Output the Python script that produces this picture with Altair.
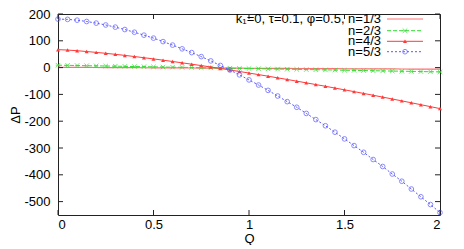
import altair as alt
import pandas as pd

Q = [0.0, 0.05, 0.1, 0.15, 0.2, 0.25, 0.3, 0.35, 0.4, 0.45,
     0.5, 0.55, 0.6, 0.65, 0.7, 0.75, 0.8, 0.85, 0.9, 0.95,
     1.0, 1.05, 1.1, 1.15, 1.2, 1.25, 1.3, 1.35, 1.4, 1.45,
     1.5, 1.55, 1.6, 1.65, 1.7, 1.75, 1.8, 1.85, 1.9, 1.95, 2.0]

n13 = [1.0, 0.8, 0.65, 0.5, 0.3, 0.1, -0.05, -0.2, -0.4, -0.6,
       -0.75, -0.9, -1.1, -1.3, -1.45, -1.6, -1.8, -2.0, -2.15, -2.3,
       -2.5, -2.7, -2.85, -3.0, -3.2, -3.4, -3.55, -3.7, -3.9, -4.1,
       -4.25, -4.4, -4.6, -4.8, -4.95, -5.1, -5.3, -5.5, -5.65, -5.8, -6.0]

n23 = [9.0, 8.4, 7.8, 7.1, 6.5, 5.9, 5.3, 4.6, 4.0, 3.4,
       2.8, 2.1, 1.5, 0.9, 0.3, -0.4, -1.0, -1.6, -2.3, -2.9,
       -3.5, -4.1, -4.8, -5.4, -6.0, -6.6, -7.3, -7.9, -8.5, -9.1,
       -9.8, -10.4, -11.0, -11.6, -12.3, -12.9, -13.5, -14.1, -14.8, -15.4, -16.0]

n43 = [67.0, 65.4, 63.0, 60.0, 56.8, 53.3, 49.5, 45.5, 41.3, 36.9,
       32.4, 27.7, 22.8, 17.8, 12.7, 7.5, 2.2, -3.3, -8.9, -14.5,
       -20.3, -26.2, -32.1, -38.2, -44.3, -50.6, -56.9, -63.3, -69.7, -76.3,
       -82.9, -89.6, -96.4, -103.2, -110.1, -117.1, -124.2, -131.3, -138.4, -145.7, -153.0]

n53 = [181, 180, 177, 172, 166, 159, 151, 142, 132, 121,
       110, 97, 84, 70, 56, 41, 25, 8, -9, -27,
       -46, -65, -85, -106, -127, -148, -171, -194, -217, -241,
       -266, -291, -316, -343, -369, -397, -424, -453, -482, -511, -541]

legend_labels = ["k\u2081=0, \u03c4=0.1, \u03c6=0.5, n=1/3", "n=2/3", "n=4/3", "n=5/3"]
x_ticks = [0, 0.5, 1, 1.5, 2]
y_ticks = [-500, -400, -300, -200, -100, 0, 100, 200]

W, H = 382, 201
FONT = "Liberation Sans"
FS = 13

RED_LIGHT = "#ff7070"
RED = "#ff3a3a"
GREEN = "#33dd33"
BLUE = "#5a5aff"
STAR = "M-1,-1L1,1M-1,1L1,-1M-1,0L1,0"

xs = alt.Scale(domain=[0, 2], nice=False)
ys = alt.Scale(domain=[-550, 200], nice=False)

XAX = alt.Axis(values=x_ticks, labelExpr="'' + datum.value", tickSize=0,
               labelPadding=3, titlePadding=1, domain=False, grid=False,
               labelOverlap=False, ticks=False)
YAX = alt.Axis(values=y_ticks, labelExpr="'' + datum.value", tickSize=0,
               labelPadding=8, titlePadding=1, domain=False, grid=False,
               labelOverlap=False, ticks=False)

def df_of(vals):
    return pd.DataFrame({"Q": Q, "P": vals})

X = alt.X("Q:Q", scale=xs, title="Q", axis=XAX)
Y = alt.Y("P:Q", scale=ys, title="\u0394P", axis=YAX)

l13 = alt.Chart(df_of(n13)).mark_line(color=RED_LIGHT, strokeWidth=1.2).encode(x=X, y=Y)
l23 = alt.Chart(df_of(n23)).mark_line(color=GREEN, strokeWidth=1, strokeDash=[4, 2]).encode(x=X, y=Y)
p23 = alt.Chart(df_of(n23)).mark_point(shape=STAR, color=GREEN, size=20, strokeWidth=1, filled=False).encode(x=X, y=Y)
l43 = alt.Chart(df_of(n43)).mark_line(color=RED, strokeWidth=1).encode(x=X, y=Y)
p43 = alt.Chart(df_of(n43)).mark_point(shape="triangle-up", color=RED, size=16, filled=True, opacity=1).encode(x=X, y=Y)
l53 = alt.Chart(df_of(n53)).mark_line(color=BLUE, strokeWidth=1, strokeDash=[2, 2]).encode(x=X, y=Y)
p53 = alt.Chart(df_of(n53)).mark_point(shape="circle", color=BLUE, size=22, strokeWidth=1, filled=False).encode(x=X, y=Y)

# inward ticks (gnuplot style) on all four sides
ydf = pd.DataFrame({"v": y_ticks})
xdf = pd.DataFrame({"v": x_ticks})
tick_col = "#222222"
YT = alt.Y("v:Q", scale=ys, title="\u0394P", axis=YAX)
XT = alt.X("v:Q", scale=xs, title="Q", axis=XAX)
yt_left = alt.Chart(ydf).mark_rule(color=tick_col, strokeWidth=1).encode(
    y=YT, x=alt.value(0), x2=alt.value(5))
yt_right = alt.Chart(ydf).mark_rule(color=tick_col, strokeWidth=1).encode(
    y=YT, x=alt.value(W - 5), x2=alt.value(W))
xt_bot = alt.Chart(xdf).mark_rule(color=tick_col, strokeWidth=1).encode(
    x=XT, y=alt.value(H), y2=alt.value(H - 5))
xt_top = alt.Chart(xdf).mark_rule(color=tick_col, strokeWidth=1).encode(
    x=XT, y=alt.value(0), y2=alt.value(5))

# key (gnuplot style, top right, text right-aligned before sample)
row_y = [5.0, 16.7, 27.3, 37.7]
tx, sx1, sx2 = 323, 329, 365
sm = (sx1 + sx2) / 2

def key_text(i):
    return alt.Chart(pd.DataFrame({"t": [legend_labels[i]]})).mark_text(
        align="right", baseline="middle", font=FONT, fontSize=FS, color="#000"
    ).encode(text="t:N", x=alt.value(tx), y=alt.value(row_y[i]))

def key_line(i, color, dash=None, width=1.0):
    kw = dict(color=color, strokeWidth=width)
    if dash:
        kw["strokeDash"] = dash
    return alt.Chart(pd.DataFrame({"t": [legend_labels[i]]})).mark_rule(**kw).encode(
        x=alt.value(sx1), x2=alt.value(sx2), y=alt.value(row_y[i]))

def key_pt(i, **kw):
    return alt.Chart(pd.DataFrame({"t": [legend_labels[i]]})).mark_point(**kw).encode(
        x=alt.value(sm), y=alt.value(row_y[i]))

keys = [
    key_text(0), key_line(0, RED_LIGHT, width=1.2),
    key_text(1), key_line(1, GREEN, dash=[4, 2]),
    key_pt(1, shape=STAR, color=GREEN, size=20, strokeWidth=1, filled=False),
    key_text(2), key_line(2, RED),
    key_pt(2, shape="triangle-up", color=RED, size=16, filled=True, opacity=1),
    key_text(3), key_line(3, BLUE, dash=[2, 2]),
    key_pt(3, shape="circle", color=BLUE, size=22, strokeWidth=1, filled=False),
]

chart = alt.layer(
    l13, l23, p23, l43, p43, l53, p53,
    yt_left, yt_right, xt_bot, xt_top,
    *keys
).properties(
    width=W, height=H,
    autosize=alt.AutoSizeParams(type="none"),
    padding={"left": 50, "top": 6, "right": 16, "bottom": 30},
).configure_view(
    stroke="#222222", strokeWidth=1
).configure_axis(
    labelFont=FONT, titleFont=FONT, labelFontSize=FS, titleFontSize=FS,
    labelColor="#000", titleColor="#000", titleFontWeight="normal"
)

chart.save("out.html", embed_options={"renderer": "svg", "actions": False})
